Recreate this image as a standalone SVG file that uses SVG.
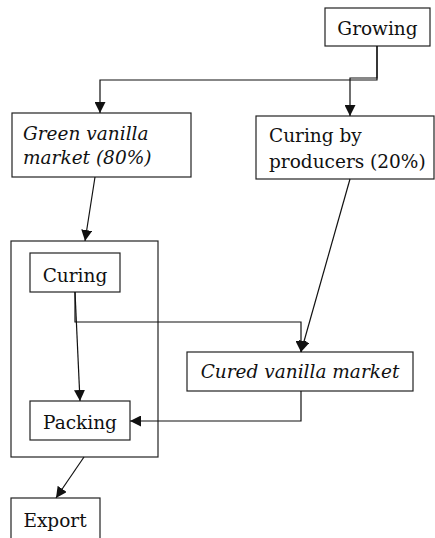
<svg xmlns="http://www.w3.org/2000/svg" width="435" height="538" viewBox="0 0 435 538">
<style>
.box{fill:#fff;stroke:#222;stroke-width:1.2}
.t{font-family:"DejaVu Serif","Liberation Serif",serif;font-size:18.5px;fill:#111}
.i{font-style:italic}
.c{fill:none;stroke:#111;stroke-width:1.2}
</style>
<defs>
<marker id="ah" markerUnits="userSpaceOnUse" markerWidth="11" markerHeight="11" refX="11" refY="5.5" orient="auto" viewBox="0 0 11 11">
<path d="M0,0 L11,5.5 L0,11 z" fill="#111"/>
</marker>
</defs>
<rect width="435" height="538" fill="#fff"/>
<g id="container"><rect class="box" x="11" y="241" width="147" height="216"/></g>
<g id="growing"><rect class="box" x="325" y="8" width="105" height="38"/><text class="t" x="377.5" y="34.5" text-anchor="middle">Growing</text></g>
<g id="green"><rect class="box" x="12" y="113" width="179" height="64"/><text class="t i" x="23" y="139.5">Green vanilla</text><text class="t i" x="23" y="164">market (80%)</text></g>
<g id="producers"><rect class="box" x="256" y="116" width="178" height="63"/><text class="t" x="269" y="141.5">Curing by</text><text class="t" x="269" y="168">producers (20%)</text></g>
<g id="curing"><rect class="box" x="30" y="253" width="90" height="39"/><text class="t" x="75" y="282" text-anchor="middle">Curing</text></g>
<g id="cured"><rect class="box" x="187" y="352" width="226" height="39"/><text class="t i" x="300" y="378" text-anchor="middle">Cured vanilla market</text></g>
<g id="packing"><rect class="box" x="30" y="401" width="100" height="39"/><text class="t" x="80" y="429" text-anchor="middle">Packing</text></g>
<g id="export"><rect class="box" x="11" y="498" width="89" height="44"/><text class="t" x="55" y="527" text-anchor="middle">Export</text></g>
<g id="connectors">
<path class="c" d="M377,46 V80 H100 V113" marker-end="url(#ah)"/>
<path class="c" d="M377,46 V78 H350 V116" marker-end="url(#ah)"/>
<path class="c" d="M95,177 L85,241" marker-end="url(#ah)"/>
<path class="c" d="M350,179 L301,352" marker-end="url(#ah)"/>
<path class="c" d="M75,292 V322 H301 V352" marker-end="url(#ah)"/>
<path class="c" d="M75,292 L80,401" marker-end="url(#ah)"/>
<path class="c" d="M301,391 V421 H130" marker-end="url(#ah)"/>
<path class="c" d="M84,457 L56,498" marker-end="url(#ah)"/>
</g>
</svg>
